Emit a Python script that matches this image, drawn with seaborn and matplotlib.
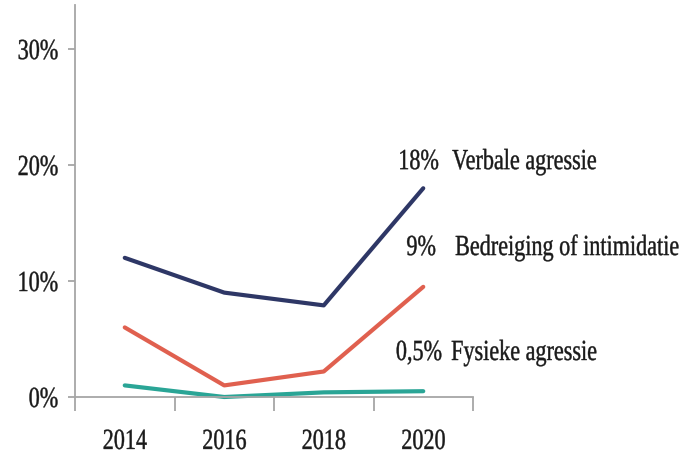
import numpy as np
import pandas as pd
import matplotlib
matplotlib.use("Agg")
import matplotlib.pyplot as plt
import seaborn as sns
from matplotlib.patheffects import AbstractPathEffect
from matplotlib.transforms import Affine2D, Bbox

# ---- data ----
years = ["2014", "2016", "2018", "2020"]
verbale = [12.0, 9.0, 7.9, 18.0]
bedreiging = [6.0, 1.0, 2.2, 9.5]
fysieke = [1.0, 0.0, 0.4, 0.5]
series_names = ["Verbale agressie", "Bedreiging of intimidatie", "Fysieke agressie"]
end_labels = ["18%", "9%", "0,5%"]
y_ticks = [0, 10, 20, 30]
y_ticklabels = ["0%", "10%", "20%", "30%"]

colors = ["#2e3766", "#e0604f", "#2aa596"]

df = pd.DataFrame({
    "x": list(range(len(years))) * 3,
    "value": verbale + bedreiging + fysieke,
    "series": [series_names[0]] * 4 + [series_names[1]] * 4 + [series_names[2]] * 4,
})

SX = 0.76


class Condense(AbstractPathEffect):
    """Horizontally condense (and slightly embolden) text glyphs."""
    def __init__(self, sx=SX, anchor="left", stroke=0.3):
        super().__init__()
        self.sx = sx
        self.anchor = anchor
        self.stroke = stroke

    def draw_path(self, renderer, gc, tpath, affine, rgbFace=None):
        ext = tpath.get_extents()
        if self.anchor == "right":
            px = ext.x1
        elif self.anchor == "center":
            px = (ext.x0 + ext.x1) / 2
        else:
            px = 0
        tr = Affine2D().translate(-px, 0).scale(self.sx, 1).translate(px, 0) + affine
        gc0 = renderer.new_gc()
        gc0.copy_properties(gc)
        if rgbFace is not None:
            gc0.set_foreground(rgbFace)
        gc0.set_linewidth(self.stroke)
        gc0.set_joinstyle("round")
        renderer.draw_path(gc0, tpath, tr, rgbFace)
        gc0.restore()


def condense_text(t, anchor, sx=SX):
    t.set_path_effects([Condense(sx, anchor)])
    orig = t.get_window_extent

    def extent(renderer=None, dpi=None):
        bb = orig(renderer, dpi)
        w = bb.width * sx
        if anchor == "right":
            x0 = bb.x1 - w
        elif anchor == "center":
            x0 = bb.x0 + (bb.width - w) / 2
        else:
            x0 = bb.x0
        return Bbox.from_bounds(x0, bb.y0, w, bb.height)

    t.get_window_extent = extent


sns.set_theme(style="white")
plt.rcParams["font.family"] = ["Liberation Serif", "DejaVu Serif"]

fig = plt.figure(figsize=(6.92, 4.63), dpi=100)
ax = fig.add_axes([75 / 692, 1 - 397 / 463, (473 - 75) / 692, (397 - 5) / 463])

sns.lineplot(data=df, x="x", y="value", hue="series", palette=colors,
             linewidth=3.0, legend=False, ax=ax, clip_on=False)
for ln in ax.lines:
    ln.set_solid_capstyle("round")
    ln.set_solid_joinstyle("round")

ax.set_xlim(-0.5, 3.5)
ax.set_ylim(0, 33.8)
ax.set_xlabel("")
ax.set_ylabel("")

for s in ["top", "right"]:
    ax.spines[s].set_visible(False)
for s in ["left", "bottom"]:
    ax.spines[s].set_color("#a6a6a6")
    ax.spines[s].set_linewidth(1.3)

# y ticks
ax.set_yticks(y_ticks)
ax.set_yticklabels(y_ticklabels)
ax.tick_params(axis="y", direction="out", length=5, width=1.3, color="#a6a6a6",
               pad=7, labelsize=21, labelcolor="#1a1a1a", left=True)

# x: boundary tick marks (major) and category labels (minor)
ax.set_xticks(np.arange(-0.5, len(years), 1.0))
ax.set_xticklabels([])
ax.set_xticks(range(len(years)), minor=True)
ax.set_xticklabels(years, minor=True)
ax.tick_params(axis="x", which="major", direction="out", length=10, width=1.3,
               color="#a6a6a6", bottom=True)
ax.tick_params(axis="x", which="minor", length=0, pad=23, labelsize=21,
               labelcolor="#1a1a1a")

for lab in ax.get_yticklabels():
    condense_text(lab, "right")
for lab in ax.get_xticklabels(minor=True):
    condense_text(lab, "center")

# end labels
val_pos = [(3.16, 19.65), (3.13, 12.24), (3.19, 3.19)]
name_x = [3.29, 3.32, 3.28]
for (vx, vy), nx, val, name in zip(val_pos, name_x, end_labels, series_names):
    t1 = ax.text(vx, vy, val, ha="right", va="baseline", fontsize=21,
                 color="#1a1a1a", clip_on=False)
    condense_text(t1, "right")
    t2 = ax.text(nx, vy, name, ha="left", va="baseline", fontsize=21,
                 color="#1a1a1a", clip_on=False)
    condense_text(t2, "left")

fig.savefig("out.png", dpi=100)
